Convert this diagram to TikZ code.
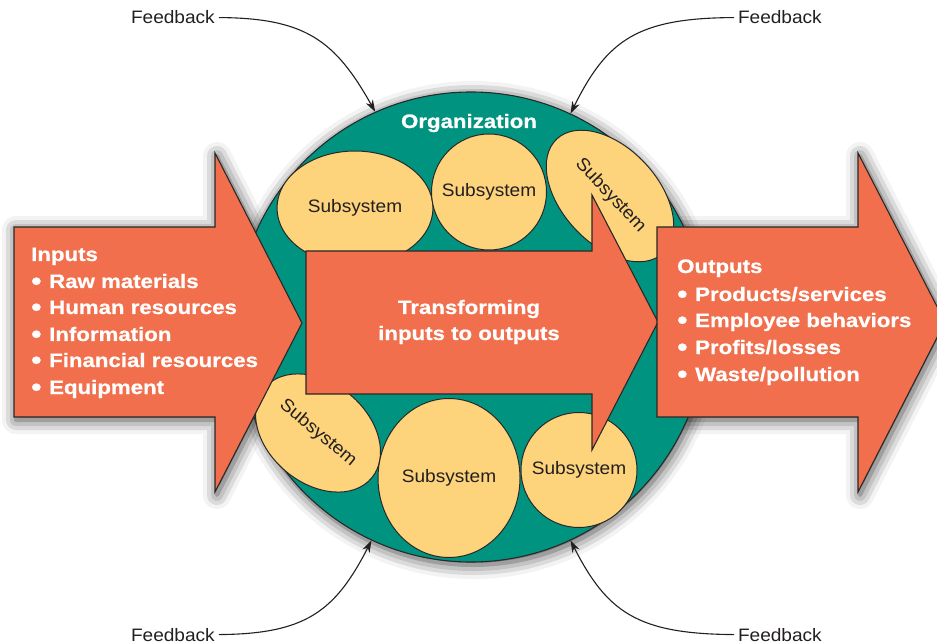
\documentclass[tikz,border=0pt]{standalone}
\usepackage{fontspec}
\setmainfont{Liberation Sans}
\newfontfamily\headfont[FakeStretch=1.14, BoldFeatures={FakeBold=0.7}]{Liberation Sans}
\newfontfamily\labelfont[FakeStretch=1.06]{Liberation Sans}
\usetikzlibrary{shapes.geometric,arrows.meta,shadows.blur}

\definecolor{arroworange}{RGB}{241,111,76}
\definecolor{orgteal}{RGB}{0,148,128}
\definecolor{subyellow}{RGB}{253,211,123}
\definecolor{outline}{RGB}{40,40,40}
\definecolor{textdark}{RGB}{35,31,32}

% a larger list bullet that sits at mid cap height
\newcommand{\listbullet}{\makebox[18pt][l]{\fontsize{26}{26}\selectfont\raisebox{-1.8pt}{\textbullet}}}
% text that does not widen the shape around it
\newcommand{\zerowide}[1]{\makebox[0pt]{#1}}

% outlines of the two outer arrows
\newcommand{\inputsoutline}{(14,227) -- (215,227) -- (215,153) -- (302,323) -- (215,492)
  -- (215,417) -- (14,417) -- cycle}
\newcommand{\outputsoutline}{(657,227) -- (858,227) -- (858,153) -- (945,322) -- (858,492)
  -- (858,417) -- (657,417) -- cycle}

\tikzset{
  softshadow/.style={blur shadow={shadow xshift=2pt, shadow yshift=-3pt,
      shadow blur radius=14pt, shadow opacity=75}},
  bigarrow/.style={fill=arroworange, draw=outline, line width=1.1pt, line join=miter},
  orgdisc/.style={circle, fill=orgteal, draw=outline, line width=1.1pt,
      minimum size=470pt, inner sep=0pt},
  subsys/.style={ellipse, fill=subyellow, draw=outline, line width=1pt, inner sep=0pt,
      text=textdark, font=\labelfont\fontsize{18}{18}\selectfont},
  fbtext/.style={text=textdark, inner sep=0pt, outer sep=4pt,
      font=\labelfont\fontsize{18}{18}\selectfont},
  fbline/.style={draw=textdark, line width=1.1pt, -{Stealth[length=12pt,width=8pt]}},
  whitetext/.style={text=white, inner sep=0pt,
      font=\headfont\bfseries\fontsize{19.5}{26}\selectfont},
}

\begin{document}
\begin{tikzpicture}[x=1pt,y=-1pt]
\useasboundingbox (0,0) rectangle (937,644);

% soft shadows of the outer arrows, kept underneath the organization
\path[fill=white, softshadow] \inputsoutline;
\path[fill=white, softshadow] \outputsoutline;

% the organization
\node[orgdisc, softshadow] (org) at (471,327) {};
\node[whitetext, anchor=base] (orgname) at (469,128) {Organization};

% subsystems inside the organization
\node[subsys, minimum width=156pt, minimum height=114pt] (sub1) at (355,208) {\zerowide{Subsystem}};
\node[subsys, minimum width=115pt, minimum height=116pt] (sub2) at (489,192) {\zerowide{Subsystem}};
\node[subsys, minimum width=156pt, minimum height=96pt, rotate=-47] (sub3) at (610,196) {\zerowide{\raisebox{5pt}{Subsystem}}};
\node[subsys, minimum width=140pt, minimum height=100pt, rotate=-40] (sub4) at (318,433) {\zerowide{Subsystem}};
\node[subsys, minimum width=142pt, minimum height=159pt] (sub5) at (449,478) {\zerowide{Subsystem}};
\node[subsys, minimum width=116pt, minimum height=115pt] (sub6) at (579,470) {\zerowide{Subsystem}};

% transformation arrow across the organization
\path[bigarrow] (306,251) -- (592,251) -- (592,195) -- (658,322) -- (592,450)
  -- (592,394) -- (306,394) -- cycle;
\node[whitetext, anchor=base] (trans1) at (469,314) {Transforming};
\node[whitetext, anchor=base] (trans2) at (469,340) {inputs to outputs};

% inputs arrow
\path[bigarrow] \inputsoutline;
\node[whitetext, anchor=base west] (inhead) at (31,261) {Inputs};
\node[whitetext, anchor=base west] (in1) at (31,288) {\listbullet Raw materials};
\node[whitetext, anchor=base west] (in2) at (31,314) {\listbullet Human resources};
\node[whitetext, anchor=base west] (in3) at (31,341) {\listbullet Information};
\node[whitetext, anchor=base west] (in4) at (31,367) {\listbullet Financial resources};
\node[whitetext, anchor=base west] (in5) at (31,394) {\listbullet Equipment};

% outputs arrow
\path[bigarrow] \outputsoutline;
\node[whitetext, anchor=base west] (outhead) at (677,273) {Outputs};
\node[whitetext, anchor=base west] (out1) at (677,301) {\listbullet Products/services};
\node[whitetext, anchor=base west] (out2) at (677,327) {\listbullet Employee behaviors};
\node[whitetext, anchor=base west] (out3) at (677,354) {\listbullet Profits/losses};
\node[whitetext, anchor=base west] (out4) at (677,381) {\listbullet Waste/pollution};

% feedback loops
\node[fbtext, anchor=base west] (fbtl) at (127,24) {Feedback};
\node[fbtext, anchor=base west] (fbtr) at (734,24) {Feedback};
\node[fbtext, anchor=base west] (fbbl) at (127,641) {Feedback};
\node[fbtext, anchor=base west] (fbbr) at (734,641) {Feedback};

\draw[fbline] (fbtl.east) .. controls (305,18) and (335,40) .. (org.114.5);
\draw[fbline] (fbtr.west) .. controls (637,18) and (607,40) .. (org.65);
\draw[fbline] (fbbl.east) .. controls (305,634) and (335,612) .. (org.245.5);
\draw[fbline] (fbbr.west) .. controls (637,634) and (607,612) .. (org.295);
\end{tikzpicture}
\end{document}
